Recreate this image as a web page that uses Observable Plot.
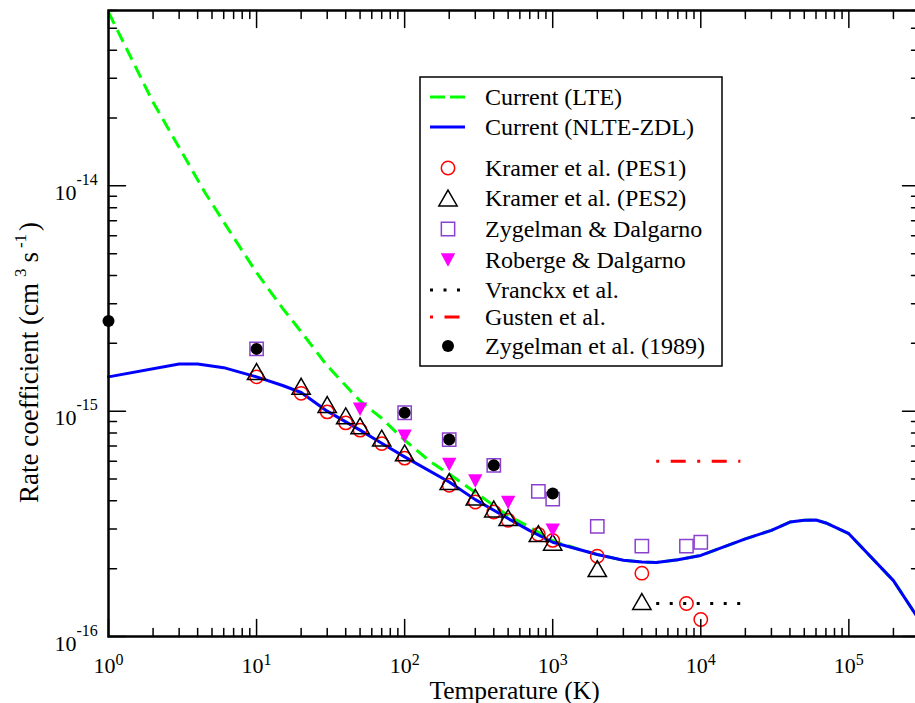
<!DOCTYPE html>
<html>
<head>
<meta charset="utf-8">
<script src="https://cdn.jsdelivr.net/npm/d3@7"></script>
<script src="https://cdn.jsdelivr.net/npm/@observablehq/plot@0.6"></script>
<style>
html,body{margin:0;padding:0;background:#fff;}
#wrap{width:915px;height:703px;overflow:hidden;position:relative;}
</style>
</head>
<body>
<div id="wrap"></div>
<script>
// ---- Data ----
// Current (LTE)
const lteT = [1, 1.5, 2, 3, 4.5, 7, 10, 15, 20, 30, 50, 70, 100, 150, 200, 300, 500, 700, 1000, 1500,
  2000, 3000, 4000, 5000, 7000, 10000, 20000, 30000, 40000, 50000, 60000, 70000, 100000, 200000, 300000];
const lteK = [5.9e-14, 3.44e-14, 2.35e-14, 1.48e-14, 9.3e-15, 5.9e-15, 4.12e-15, 2.86e-15, 2.25e-15, 1.59e-15,
  1.11e-15, 9.3e-16, 7.43e-16, 5.95e-16, 5.26e-16, 4.36e-16, 3.43e-16, 3.06e-16, 2.66e-16, 2.44e-16,
  2.31e-16, 2.18e-16, 2.14e-16, 2.13e-16, 2.19e-16, 2.29e-16, 2.71e-16, 2.96e-16, 3.22e-16, 3.28e-16,
  3.29e-16, 3.19e-16, 2.86e-16, 1.77e-16, 1.18e-16];
// Current (NLTE-ZDL)
const nlteT = [1, 3, 4, 6, 10, 15, 20, 30, 50, 70, 100, 200, 300, 500, 700, 1000, 2000, 3000, 4000, 5000,
  7000, 10000, 20000, 30000, 40000, 50000, 60000, 70000, 100000, 200000, 300000];
const nlteK = [1.42e-15, 1.62e-15, 1.62e-15, 1.56e-15, 1.42e-15, 1.30e-15, 1.21e-15, 1.0e-15, 8.24e-16, 7.2e-16,
  6.27e-16, 4.85e-16, 4.05e-16, 3.34e-16, 2.95e-16, 2.62e-16, 2.31e-16, 2.18e-16, 2.14e-16, 2.13e-16,
  2.19e-16, 2.29e-16, 2.71e-16, 2.96e-16, 3.22e-16, 3.28e-16, 3.29e-16, 3.19e-16, 2.86e-16, 1.77e-16, 1.18e-16];
// Kramer et al. (PES1)
const pes1T = [10, 20, 30, 40, 50, 70, 100, 200, 300, 400, 500, 800, 1000, 2000, 4000, 8000, 10000];
const pes1K = [1.42e-15, 1.20e-15, 9.93e-16, 8.87e-16, 8.24e-16, 7.18e-16, 6.19e-16, 4.69e-16, 3.95e-16,
  3.57e-16, 3.28e-16, 2.84e-16, 2.67e-16, 2.27e-16, 1.91e-16, 1.40e-16, 1.19e-16];
// Kramer et al. (PES2)
const pes2T = [10, 20, 30, 40, 50, 70, 100, 200, 300, 400, 500, 800, 1000, 2000, 4000];
const pes2K = [1.50e-15, 1.29e-15, 1.07e-15, 9.53e-16, 8.60e-16, 7.59e-16, 6.53e-16, 4.87e-16, 4.15e-16,
  3.68e-16, 3.37e-16, 2.86e-16, 2.62e-16, 2.00e-16, 1.43e-16];
// Zygelman & Dalgarno
const zdT = [10, 100, 200, 400, 800, 1000, 2000, 4000, 8000, 10000];
const zdK = [1.89e-15, 9.84e-16, 7.48e-16, 5.75e-16, 4.41e-16, 4.07e-16, 3.08e-16, 2.52e-16, 2.52e-16, 2.62e-16];
// Roberge & Dalgarno
const rdT = [50, 100, 200, 300, 500, 1000];
const rdK = [1.02e-15, 7.74e-16, 5.80e-16, 4.90e-16, 3.93e-16, 2.96e-16];
// Vranckx et al.
const vrT = [5000, 18500];
const vrK = [1.4e-16, 1.4e-16];
// Gusten et al.
const guT = [5000, 18500];
const guK = [6.0e-16, 6.0e-16];
// Zygelman et al. (1989)
const z89T = [1, 10, 100, 200, 400, 1000];
const z89K = [2.51e-15, 1.89e-15, 9.84e-16, 7.48e-16, 5.75e-16, 4.31e-16];

// Axis ticks / labels
const xMajor = [1, 10, 100, 1000, 10000, 100000];
const xExp = ["0", "1", "2", "3", "4", "5"];
const yMajor = [1e-16, 1e-15, 1e-14];
const yExp = ["-16", "-15", "-14"];
const xTitle = "Temperature (K)";
const legendLabels = ["Current (LTE)", "Current (NLTE-ZDL)", "Kramer et al. (PES1)", "Kramer et al. (PES2)",
  "Zygelman & Dalgarno", "Roberge & Dalgarno", "Vranckx et al.", "Gusten et al.", "Zygelman et al. (1989)"];

// ---- Build ----
const FONT = "'Liberation Serif', 'Times New Roman', Times, serif";
const xDomain = [1, 3e5];
const yDomain = [1e-16, 6e-14];
const isMajor = v => Math.abs(Math.log10(v) - Math.round(Math.log10(v))) < 1e-9;
const xMinor = d3.scaleLog().domain(xDomain).ticks().filter(v => !isMajor(v));
const yMinor = d3.scaleLog().domain(yDomain).ticks().filter(v => !isMajor(v));

const rows = (T, K) => T.map((t, i) => ({T: t, k: K[i]}));
const lte = rows(lteT, lteK), nlte = rows(nlteT, nlteK), pes1 = rows(pes1T, pes1K),
  pes2 = rows(pes2T, pes2K), zd = rows(zdT, zdK), rd = rows(rdT, rdK),
  vr = rows(vrT, vrK), gu = rows(guT, guK), z89 = rows(z89T, z89K);

const tickShape = {draw(ctx, l) { ctx.moveTo(0, 0); ctx.lineTo(0, -l); }};
const triangleDown = {draw(ctx, size) {
  const r = Math.sqrt(size / Math.PI);
  ctx.moveTo(-r, -0.93 * r); ctx.lineTo(r, -0.93 * r); ctx.lineTo(0, 0.93 * r); ctx.closePath();
}};

const tickOpts = {anchor: "start", shape: tickShape, stroke: "black", strokeWidth: 1.5};
const ticks = [];
for (const [vals, len] of [[xMajor, 17], [xMinor, 8]]) {
  ticks.push(Plot.vector(vals, {x: d => d, frameAnchor: "bottom", length: len, rotate: 0, ...tickOpts}));
  ticks.push(Plot.vector(vals, {x: d => d, frameAnchor: "top", length: len, rotate: 180, ...tickOpts}));
}
for (const [vals, len] of [[yMajor, 17], [yMinor, 8]]) {
  ticks.push(Plot.vector(vals, {y: d => d, frameAnchor: "left", length: len, rotate: 90, ...tickOpts}));
  ticks.push(Plot.vector(vals, {y: d => d, frameAnchor: "right", length: len, rotate: -90, ...tickOpts}));
}

const PURPLE = "#8c40d0";
const butt = {strokeLinecap: "butt", strokeLinejoin: "miter"};

const chart = Plot.plot({
  width: 919,
  height: 703,
  marginLeft: 108,
  marginRight: 0,
  marginTop: 10,
  marginBottom: 67,
  style: {fontFamily: FONT, background: "white", maxWidth: "none", color: "black"},
  x: {type: "log", domain: xDomain, axis: null},
  y: {type: "log", domain: yDomain, axis: null},
  marks: [
    Plot.line(lte, {x: "T", y: "k", stroke: "#00ff00", strokeWidth: 3, strokeDasharray: "13,7", ...butt}),
    Plot.line(nlte, {x: "T", y: "k", stroke: "#0000ff", strokeWidth: 3}),
    Plot.dot(pes1, {x: "T", y: "k", r: 6.7, stroke: "#ff0000", strokeWidth: 1.5, fill: "none"}),
    Plot.dot(pes2, {x: "T", y: "k", symbol: "triangle", r: 6.8, dy: 2.6, stroke: "black", strokeWidth: 1.5, fill: "none"}),
    Plot.dot(zd, {x: "T", y: "k", symbol: "square", r: 7.5, stroke: PURPLE, strokeWidth: 1.5, fill: "none"}),
    Plot.dot(rd, {x: "T", y: "k", symbol: triangleDown, r: 7.2, fill: "#ff00ff", stroke: "none"}),
    Plot.line(vr, {x: "T", y: "k", stroke: "black", strokeWidth: 3, strokeDasharray: "3,10.5", ...butt}),
    Plot.line(gu, {x: "T", y: "k", stroke: "#ff0000", strokeWidth: 3, strokeDasharray: "3,11.5,15,11.5", ...butt}),
    Plot.dot(z89, {x: "T", y: "k", r: 6, fill: "black"}),
    ...ticks,
    Plot.frame({stroke: "black", strokeWidth: 2.5}),
    Plot.text(xMajor, {x: d => d, frameAnchor: "bottom", text: () => "10", textAnchor: "end", lineAnchor: "bottom", dx: 7, dy: 36, fontSize: 22}),
    Plot.text(xMajor, {x: d => d, frameAnchor: "bottom", text: (d, i) => xExp[i], textAnchor: "start", lineAnchor: "bottom", dx: 7, dy: 28, fontSize: 16}),
    Plot.text(yMajor, {y: d => d, frameAnchor: "left", text: () => "10", textAnchor: "end", lineAnchor: "bottom", dx: -32, dy: 14, fontSize: 22}),
    Plot.text(yMajor, {y: d => d, frameAnchor: "left", text: (d, i) => yExp[i], textAnchor: "start", lineAnchor: "bottom", dx: -32, dy: -1, fontSize: 16}),
    Plot.text([xTitle], {frameAnchor: "bottom", text: d => d, lineAnchor: "bottom", dx: 0.5, dy: 62, fontSize: 25.5})
  ]
});
document.getElementById("wrap").appendChild(chart);

// ---- Y title with superscripts ----
const svg = d3.select(chart);
const yt = svg.append("text")
  .attr("transform", "translate(38,503) rotate(-90)")
  .attr("text-anchor", "start")
  .attr("font-family", FONT).attr("font-size", 27).attr("fill", "black");
yt.append("tspan").text("Rate coefficient (cm");
yt.append("tspan").attr("font-size", 17).attr("dx", 6).attr("dy", -12).text("3");
yt.append("tspan").attr("dx", 6).attr("dy", 12).text("s");
yt.append("tspan").attr("font-size", 17).attr("dx", 4).attr("dy", -12).text("-1");
yt.append("tspan").attr("dx", 3).attr("dy", 12).text(")");

// ---- Legend ----
const lg = svg.append("g").attr("font-family", FONT).attr("font-size", 24).attr("text-anchor", "start");
lg.append("rect").attr("x", 420).attr("y", 77).attr("width", 302).attr("height", 289)
  .attr("fill", "white").attr("stroke", "black").attr("stroke-width", 1.5);
const rowY = [97, 127, 168, 198, 229, 260, 290, 317, 346];
const sx = 448;
lg.append("line").attr("x1", 430).attr("x2", 465).attr("y1", rowY[0]).attr("y2", rowY[0])
  .attr("stroke", "#00ff00").attr("stroke-width", 3).attr("stroke-dasharray", "15,5");
lg.append("line").attr("x1", 430).attr("x2", 465).attr("y1", rowY[1]).attr("y2", rowY[1])
  .attr("stroke", "#0000ff").attr("stroke-width", 3);
lg.append("circle").attr("cx", sx).attr("cy", rowY[2]).attr("r", 6.7)
  .attr("fill", "none").attr("stroke", "#ff0000").attr("stroke-width", 1.5);
lg.append("path").attr("d", d3.symbol(d3.symbolTriangle, Math.PI * 6.8 * 6.8)())
  .attr("transform", `translate(${sx},${rowY[3] + 2.6})`)
  .attr("fill", "none").attr("stroke", "black").attr("stroke-width", 1.5);
lg.append("path").attr("d", d3.symbol(d3.symbolSquare, Math.PI * 7.5 * 7.5)())
  .attr("transform", `translate(${sx},${rowY[4]})`)
  .attr("fill", "none").attr("stroke", PURPLE).attr("stroke-width", 1.5);
lg.append("path").attr("d", d3.symbol(triangleDown, Math.PI * 7.2 * 7.2)())
  .attr("transform", `translate(${sx},${rowY[5]})`).attr("fill", "#ff00ff");
lg.append("line").attr("x1", 430).attr("x2", 465).attr("y1", rowY[6]).attr("y2", rowY[6])
  .attr("stroke", "black").attr("stroke-width", 3).attr("stroke-dasharray", "3,10.5");
lg.append("line").attr("x1", 430).attr("x2", 465).attr("y1", rowY[7]).attr("y2", rowY[7])
  .attr("stroke", "#ff0000").attr("stroke-width", 3).attr("stroke-dasharray", "3,11.5,15,11.5");
lg.append("circle").attr("cx", sx).attr("cy", rowY[8]).attr("r", 6).attr("fill", "black");
legendLabels.forEach((t, i) => {
  lg.append("text").attr("x", 485).attr("y", rowY[i]).attr("dy", "0.34em").attr("fill", "black").text(t);
});
</script>
</body>
</html>
